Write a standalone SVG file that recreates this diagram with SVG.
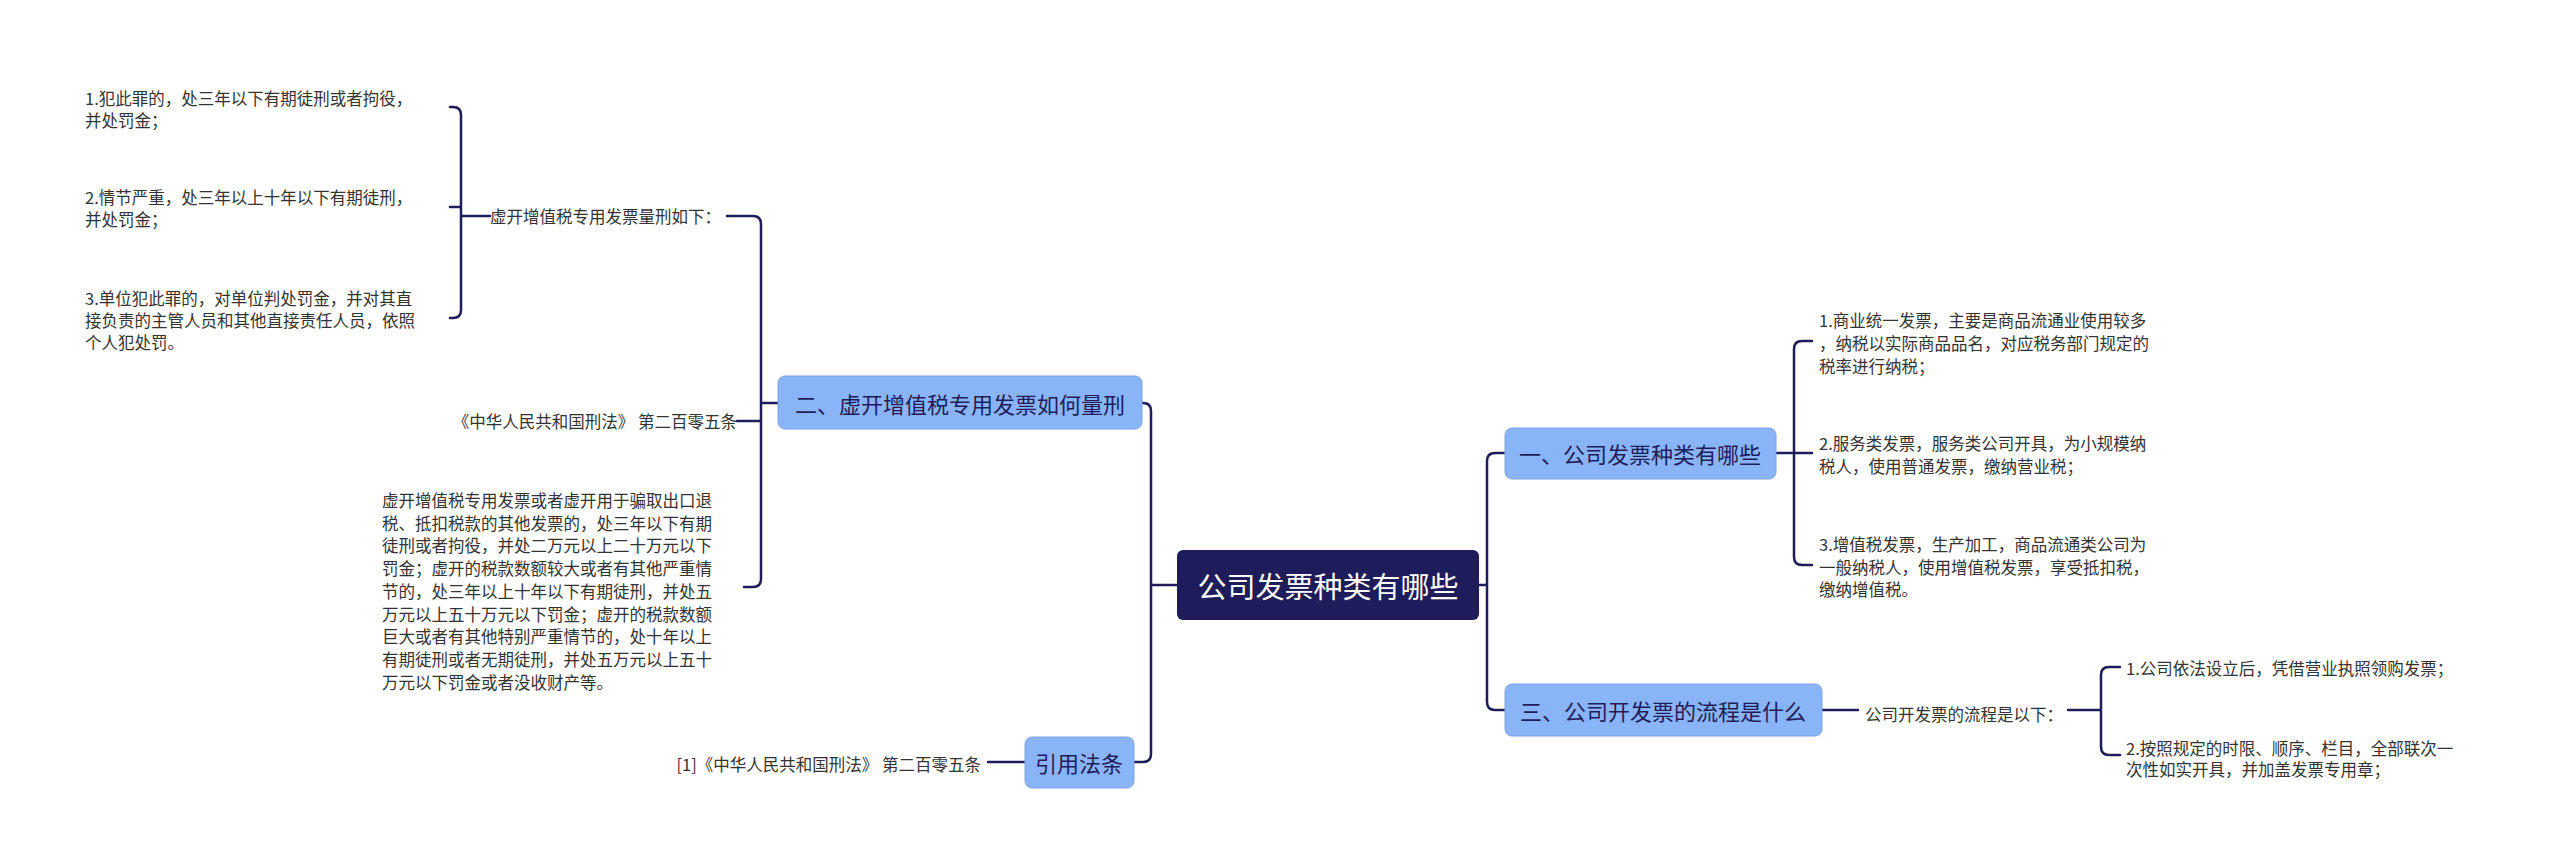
<svg xmlns="http://www.w3.org/2000/svg" width="2560" height="865" viewBox="0 0 2560 865">
<style>
.c{fill:none;stroke:#1e1c5b;stroke-width:2.5;stroke-linecap:round}
.t{font-family:"Noto Sans CJK SC","Liberation Sans",sans-serif;font-size:16.5px;fill:#333;dominant-baseline:central}
.n{fill:#8ab4f8;stroke:#7aa4ec;stroke-width:1}
.nt{font-family:"Noto Sans CJK SC","Liberation Sans",sans-serif;font-size:22px;fill:#1e1c5b;dominant-baseline:central;text-anchor:middle}
</style>
<rect width="2560" height="865" fill="#fff"/>
<g id="connectors" class="c">
<path d="M1177 585H1151M1142 403H1143Q1151 403 1151 411V754Q1151 762 1143 762H1134"/>
<path d="M778 403H761M727 216H753Q761 216 761 224V579Q761 587 753 587H744M737 421H761"/>
<path d="M490 216H461M450 107H453Q461 107 461 115V310Q461 318 453 318H450M450 207H461"/>
<path d="M1479 585H1487M1505 453H1495Q1487 453 1487 461V702Q1487 710 1495 710H1505"/>
<path d="M1776 453H1812M1812 341H1802Q1794 341 1794 349V557Q1794 565 1802 565H1812"/>
<path d="M1822 710H1858M2068 710H2101M2120 667H2109Q2101 667 2101 675V747Q2101 755 2109 755H2120"/>
<path d="M1025 762H988"/>
</g>
<g id="root"><rect x="1177" y="550" width="302" height="70" rx="6" fill="#1e1c5b"/><text x="1328" y="585" class="nt" style="fill:#fff;font-size:29px">公司发票种类有哪些</text></g>
<g id="n2"><rect class="n" x="778" y="376" width="364" height="53" rx="7"/><text class="nt" x="960" y="403">二、虚开增值税专用发票如何量刑</text></g>
<g id="nref"><rect class="n" x="1025" y="737" width="109" height="51" rx="7"/><text class="nt" x="1079" y="762">引用法条</text></g>
<g id="n1"><rect class="n" x="1505" y="428" width="271" height="51" rx="7"/><text class="nt" x="1640" y="453">一、公司发票种类有哪些</text></g>
<g id="n3"><rect class="n" x="1505" y="684" width="317" height="52" rx="7"/><text class="nt" x="1663" y="710">三、公司开发票的流程是什么</text></g>
<g id="l-sub"><text class="t" x="490" y="216">虚开增值税专用发票量刑如下：</text></g>
<g id="l1"><text class="t" x="85" y="98">1.犯此罪的，处三年以下有期徒刑或者拘役，</text><text class="t" x="85" y="120">并处罚金；</text></g>
<g id="l2"><text class="t" x="85" y="197">2.情节严重，处三年以上十年以下有期徒刑，</text><text class="t" x="85" y="219">并处罚金；</text></g>
<g id="l3"><text class="t" x="85" y="298">3.单位犯此罪的，对单位判处罚金，并对其直</text><text class="t" x="85" y="320">接负责的主管人员和其他直接责任人员，依照</text><text class="t" x="85" y="342">个人犯处罚。</text></g>
<g id="l-law"><text class="t" x="737" y="421" text-anchor="end">《中华人民共和国刑法》 第二百零五条</text></g>
<g id="l-long" class="t"><text class="t" x="382" y="500">虚开增值税专用发票或者虚开用于骗取出口退</text><text class="t" x="382" y="522.7">税、抵扣税款的其他发票的，处三年以下有期</text><text class="t" x="382" y="545.4">徒刑或者拘役，并处二万元以上二十万元以下</text><text class="t" x="382" y="568.1">罚金；虚开的税款数额较大或者有其他严重情</text><text class="t" x="382" y="590.8">节的，处三年以上十年以下有期徒刑，并处五</text><text class="t" x="382" y="613.5">万元以上五十万元以下罚金；虚开的税款数额</text><text class="t" x="382" y="636.2">巨大或者有其他特别严重情节的，处十年以上</text><text class="t" x="382" y="658.9">有期徒刑或者无期徒刑，并处五万元以上五十</text><text class="t" x="382" y="681.6">万元以下罚金或者没收财产等。</text></g>
<g id="ref1"><text class="t" x="981" y="764" text-anchor="end">[1]《中华人民共和国刑法》 第二百零五条</text></g>
<g id="r1"><text class="t" x="1819" y="320">1.商业统一发票，主要是商品流通业使用较多</text><text class="t" x="1819" y="343">，纳税以实际商品品名，对应税务部门规定的</text><text class="t" x="1819" y="366">税率进行纳税；</text></g>
<g id="r2"><text class="t" x="1819" y="443">2.服务类发票，服务类公司开具，为小规模纳</text><text class="t" x="1819" y="466">税人，使用普通发票，缴纳营业税；</text></g>
<g id="r3"><text class="t" x="1819" y="544">3.增值税发票，生产加工，商品流通类公司为</text><text class="t" x="1819" y="567">一般纳税人，使用增值税发票，享受抵扣税，</text><text class="t" x="1819" y="589">缴纳增值税。</text></g>
<g id="r-sub"><text class="t" x="1865" y="714">公司开发票的流程是以下：</text></g>
<g id="s1"><text class="t" x="2126" y="668">1.公司依法设立后，凭借营业执照领购发票；</text></g>
<g id="s2"><text class="t" x="2126" y="748">2.按照规定的时限、顺序、栏目，全部联次一</text><text class="t" x="2126" y="769">次性如实开具，并加盖发票专用章；</text></g>
</svg>
